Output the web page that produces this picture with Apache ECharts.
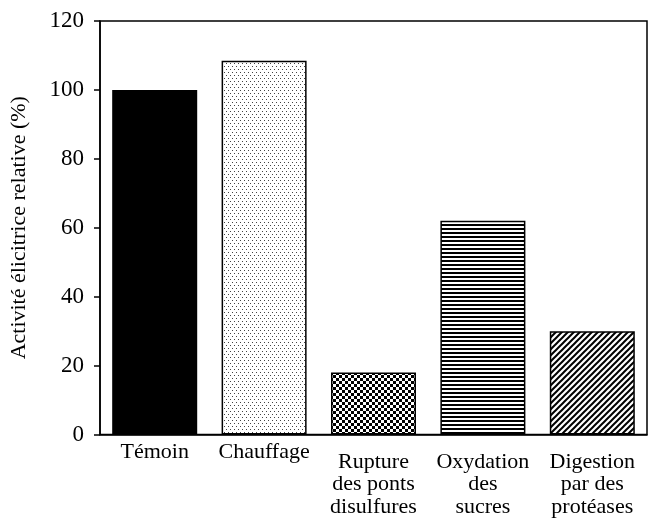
<!DOCTYPE html>
<html>
<head>
<meta charset="utf-8">
<script src="https://cdn.jsdelivr.net/npm/echarts@6/dist/echarts.min.js"></script>
<style>html,body{margin:0;padding:0;background:#fff;}#c{width:648px;height:518px;}</style>
</head>
<body>
<div id="c"></div>
<script>
const categories = ['Témoin', 'Chauffage', 'Rupture\ndes ponts\ndisulfures', 'Oxydation\ndes\nsucres', 'Digestion\npar des\nprotéases'];
const values = [100, 108.5, 18, 62, 30];
const yTicks = [0, 20, 40, 60, 80, 100, 120];
const patterns = ['solid', 'dots', 'checker', 'hlines', 'diag'];

function makePattern(kind) {
  const c = document.createElement('canvas');
  let ctx;
  if (kind === 'dots') {
    c.width = 4; c.height = 6; ctx = c.getContext('2d');
    ctx.fillStyle = '#fff'; ctx.fillRect(0, 0, 4, 6);
    ctx.fillStyle = '#444';
    ctx.fillRect(0, 0, 1, 1); ctx.fillRect(2, 3, 1, 1);
  } else if (kind === 'checker') {
    c.width = 6; c.height = 6; ctx = c.getContext('2d');
    ctx.fillStyle = '#fff'; ctx.fillRect(0, 0, 6, 6);
    ctx.fillStyle = '#000';
    ctx.fillRect(0, 0, 3, 3); ctx.fillRect(3, 3, 3, 3);
  } else if (kind === 'hlines') {
    c.width = 4; c.height = 4; ctx = c.getContext('2d');
    ctx.fillStyle = '#fff'; ctx.fillRect(0, 0, 4, 4);
    ctx.fillStyle = '#000'; ctx.fillRect(0, 0, 4, 2);
  } else if (kind === 'diag') {
    c.width = 6; c.height = 6; ctx = c.getContext('2d');
    ctx.fillStyle = '#fff'; ctx.fillRect(0, 0, 6, 6);
    ctx.strokeStyle = '#000'; ctx.lineWidth = 2;
    for (let k = -1; k <= 1; k++) {
      ctx.beginPath(); ctx.moveTo(-1, 7 + 6 * k); ctx.lineTo(7, -1 + 6 * k); ctx.stroke();
    }
  } else {
    return '#000';
  }
  return { image: c, repeat: 'repeat' };
}

const font = 'Liberation Serif';
const catData = categories.map((c, i) => ({
  value: c,
  textStyle: i >= 2 ? { padding: [10, 0, 0, 0] } : {}
}));

const chart = echarts.init(document.getElementById('c'));
chart.setOption({
  animation: false,
  backgroundColor: '#fff',
  grid: { left: 98, right: 1, top: 21, bottom: 83, show: true, borderColor: '#000', borderWidth: 1.5, containLabel: false },
  xAxis: {
    type: 'category',
    data: catData,
    axisLine: { lineStyle: { color: '#000', width: 1.5 } },
    axisTick: { show: false },
    axisLabel: { color: '#000', fontFamily: font, fontSize: 22, lineHeight: 22.5, margin: 6, interval: 0, verticalAlign: 'top' }
  },
  yAxis: {
    type: 'value', min: 0, max: 120, interval: 20,
    name: 'Activité élicitrice relative (%)',
    nameLocation: 'middle', nameGap: 70,
    nameTextStyle: { color: '#000', fontFamily: font, fontSize: 22 },
    axisLine: { show: true, lineStyle: { color: '#000', width: 1.5 } },
    axisTick: { show: true, inside: false, length: 6, lineStyle: { color: '#000', width: 1.5 } },
    axisLabel: { color: '#000', fontFamily: font, fontSize: 23, margin: 16, formatter: v => yTicks.includes(v) ? String(v) : '' },
    splitLine: { show: false }
  },
  series: [{
    type: 'bar',
    barWidth: 85,
    data: values.map((v, i) => ({
      value: v,
      itemStyle: { color: makePattern(patterns[i]), borderColor: '#000', borderWidth: 1.5 }
    }))
  }]
});
</script>
</body>
</html>
